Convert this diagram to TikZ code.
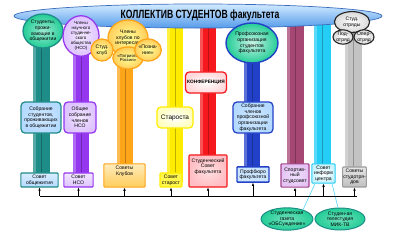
\documentclass[tikz,border=0pt]{standalone}
\usepackage{fontspec}
\setmainfont{Liberation Sans}
\usepackage{graphicx}
\usetikzlibrary{shapes.geometric,arrows.meta,calc}
\definecolor{tealBar}{RGB}{30,140,135}
\definecolor{violBar}{RGB}{150,55,240}
\definecolor{orgBar}{RGB}{255,165,25}
\definecolor{yelBar}{RGB}{255,236,0}
\definecolor{redBar}{RGB}{245,25,30}
\definecolor{bluBar}{RGB}{35,65,200}
\definecolor{marBar}{RGB}{165,70,115}
\definecolor{cyaBar}{RGB}{35,205,245}
\definecolor{grayBar}{RGB}{195,195,195}
\definecolor{mintFill}{RGB}{35,205,150}
\definecolor{lavFill}{RGB}{222,195,255}
\definecolor{skyFill}{RGB}{180,218,255}
\definecolor{creamFill}{RGB}{255,205,90}
\definecolor{pinkFill}{RGB}{255,190,195}
\definecolor{bannerTop}{RGB}{210,235,255}
\definecolor{bannerBot}{RGB}{85,155,235}
\definecolor{bannerLine}{RGB}{60,110,190}

\tikzset{
  smalltext/.style={font=\fontsize{3.6}{4.0}\selectfont, align=center, inner sep=0.5pt, text=black},
  ovalnode/.style={smalltext, ellipse, line width=0.9pt, inner sep=0pt},
  midbox/.style={smalltext, rectangle, rounded corners=3pt, line width=0.9pt},
  lowbox/.style={smalltext, rectangle, rounded corners=0.6pt, line width=0.8pt},
  greenoval/.style={ovalnode, draw=tealBar, inner color=mintFill!45!white, outer color=mintFill},
  orgoval/.style={ovalnode, draw=orgBar, inner color=white!60!yellow, outer color=creamFill},
  grayoval/.style={ovalnode, draw=black!85, line width=0.8pt, inner color=white, outer color=black!15},
  uparrow/.style={-{Latex[length=2.2pt,width=1.9pt]}, line width=0.5pt},
}

\begin{document}
\begin{tikzpicture}[x=0.025cm,y=-0.025cm]
\path[use as bounding box] (0,0) rectangle (400,236);

% vertical bars
\foreach \xa/\xb/\c in {33/50/tealBar, 73/89/violBar, 117/133/orgBar, 167/183/yelBar, 200/216/redBar, 244/260/bluBar, 287/304/marBar, 314/331/cyaBar, 345/362/grayBar}{
  \fill[\c] (\xa,20) rectangle (\xb,182);
  \fill[\c!75!white] (\xa,20) rectangle ({\xa+2.5},182);
  \draw[\c!75!black, line width=0.3pt] ({(\xa+\xb)/2},20) -- ({(\xa+\xb)/2},182);
}

% banner
\node[ellipse, draw=bannerLine, line width=0.5pt, top color=bannerTop, bottom color=bannerBot, minimum width=9.2cm, minimum height=0.6cm] (banner) at (198,16) {};
\node[font=\bfseries\fontsize{8.5}{9}\selectfont] (title) at (200,15.5) {\scalebox{0.72}[1]{КОЛЛЕКТИВ СТУДЕНТОВ факультета}};

% top ovals
\node[greenoval, minimum width=1cm, minimum height=0.85cm] (studObsch) at (43,31) {Студенты,\\прожи-\\вающие в\\общежитии};
\node[ovalnode, draw=violBar, inner color=white!60!lavFill, outer color=lavFill, minimum width=0.9cm, minimum height=0.9cm, font=\fontsize{3.2}{3.5}\selectfont] (chlNSO) at (81,36) {Члены\\научного\\студенче-\\ского\\общества\\(НСО)};
\node[orgoval, minimum width=1cm, minimum height=0.9cm] (chlKlub) at (128,38) {Члены\\клубов по\\интересам};
\node[orgoval, minimum width=0.55cm, minimum height=0.55cm] (studKlub) at (102,50) {Студ.\\клуб};
\node[orgoval, minimum width=0.7cm, minimum height=0.55cm, font=\fontsize{3}{3.4}\selectfont] (patriot) at (128,58) {«Патриоты\\России»};
\node[orgoval, minimum width=0.6cm, minimum height=0.55cm] (poznan) at (148,50) {«Позна-\\ние»};
\node[ovalnode, draw=bluBar, line width=1pt, inner color=white!75!mintFill, outer color=mintFill, minimum width=1.3cm, minimum height=1cm] (profOrg) at (252,43) {Профсоюзная\\организация\\студентов\\факультета};
\node[grayoval, minimum width=0.88cm, minimum height=0.52cm] (studOtr) at (352,22) {Студ.\\отряды};
\node[grayoval, minimum width=0.5cm, minimum height=0.35cm] (podOtr) at (343,37) {Под-\\отряд};
\node[grayoval, minimum width=0.5cm, minimum height=0.35cm] (operOtr) at (364,37) {Опер-\\отряд};

% middle boxes
\node[midbox, draw=tealBar, inner color=white!40!skyFill, outer color=skyFill, minimum width=1cm, minimum height=0.78cm] (sobObsch) at (41,117.5) {Собрание\\студентов,\\проживающих\\в общежитии};
\node[midbox, draw=violBar, inner color=white!60!lavFill, outer color=lavFill, minimum width=0.8cm, minimum height=0.78cm] (sobNSO) at (80,117.5) {Общее\\собрание\\членов\\НСО};
\node[midbox, draw=yelBar, inner color=white, outer color=yellow!25, minimum width=0.9cm, minimum height=0.53cm, font=\fontsize{4.6}{5}\selectfont] (starosta) at (175,117.5) {Староста};
\node[midbox, draw=redBar, inner color=white, outer color=pinkFill!60, minimum width=1.03cm, minimum height=0.53cm, font=\bfseries\fontsize{3.4}{4}\selectfont] (konf) at (206,82.5) {КОНФЕРЕНЦИЯ};
\node[midbox, draw=bluBar, inner color=white!40!skyFill, outer color=skyFill, minimum width=1cm, minimum height=0.78cm] (sobProf) at (253,117.5) {Собрание\\членов\\профсоюзной\\организации\\факультета};

% lower boxes
\node[lowbox, draw=tealBar, top color=white!50!skyFill, bottom color=skyFill, minimum width=0.93cm, minimum height=0.35cm] (sovObsch) at (39.5,180) {Совет\\общежития};
\node[lowbox, draw=violBar, top color=white!60!lavFill, bottom color=lavFill, minimum width=0.73cm, minimum height=0.35cm] (sovNSO) at (78.5,180) {Совет\\НСО};
\node[lowbox, draw=orgBar, top color=white!60!creamFill, bottom color=creamFill, minimum width=1.03cm, minimum height=0.58cm] (sovKlub) at (124.5,175.5) {Советы\\Клубов\\[3pt]~};
\node[lowbox, draw=yelBar, fill=yellow!70, minimum width=0.55cm, minimum height=0.35cm] (sovStar) at (171,180) {Совет\\старост};
\node[lowbox, draw=redBar, inner color=white!50!pinkFill, outer color=pinkFill, minimum width=0.95cm, minimum height=0.8cm] (sovStud) at (208,171) {Студенческий\\Совет\\факультета\\[3pt]~};
\node[lowbox, draw=bluBar, line width=1pt, fill=skyFill!70, minimum width=0.8cm, minimum height=0.38cm] (profburo) at (253,174.5) {Профбюро\\факультета};
\node[lowbox, draw=marBar!80!violBar, inner color=white!50!lavFill, outer color=lavFill!80!pink, minimum width=0.7cm, minimum height=0.58cm] (sport) at (295,175.5) {Спортив-\\ный\\студсовет};
\node[lowbox, draw=cyaBar, inner color=white, outer color=cyaBar!25, minimum width=0.58cm, minimum height=0.48cm] (inform) at (323.5,173.5) {Совет\\информ\\центра};
\node[lowbox, draw=grayBar!80!black, top color=black!10, bottom color=black!25, minimum width=0.58cm, minimum height=0.5cm] (sovOtr) at (354.5,177) {Советы\\студотря-\\дов};

% bottom ovals
\node[greenoval, line width=0.7pt, inner color=mintFill!65!white, minimum width=1.25cm, minimum height=0.55cm] (gazeta) at (287,219) {Студенческая\\газета\\«ОБСуждение»};
\node[greenoval, line width=0.7pt, inner color=mintFill!65!white, minimum width=1.25cm, minimum height=0.55cm] (tv) at (340,219) {Студен-ая\\телестудия\\МИК-ТВ};
\draw[cyaBar!70!white, line width=0.5pt] ($(inform.south west)!0.15!(inform.south east)$) -- (gazeta.30);
\draw[cyaBar!70!white, line width=0.5pt] ($(inform.south west)!0.85!(inform.south east)$) -- (tv.100);

% base line with arrows
\coordinate (baseL) at (40,196);
\coordinate (baseR) at (357,196);
\draw[line width=0.6pt] (baseL) -- (baseR);
\foreach \n in {sovObsch,sovNSO,sovKlub,sovStar,sovStud,profburo,sport,inform,sovOtr}
  \draw[uparrow] (\n.south |- baseL) -- (\n.south);
\end{tikzpicture}
\end{document}
